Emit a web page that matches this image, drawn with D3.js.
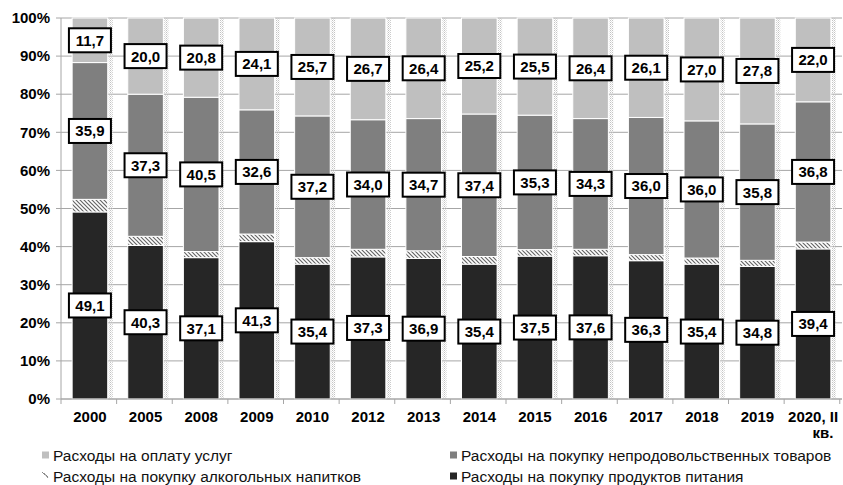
<!DOCTYPE html>
<html>
<head>
<meta charset="utf-8">
<script src="https://cdn.jsdelivr.net/npm/d3@7"></script>
<style>
  body { margin: 0; background: #fff; }
  svg text { font-family: "Liberation Sans", Arial, sans-serif; }
</style>
</head>
<body>
<svg id="chart" width="843" height="485"></svg>
<script>
const years = ["2000", "2005", "2008", "2009", "2010", "2012", "2013", "2014", "2015", "2016", "2017", "2018", "2019", "2020, II кв."];
const food = [49.1, 40.3, 37.1, 41.3, 35.4, 37.3, 36.9, 35.4, 37.5, 37.6, 36.3, 35.4, 34.8, 39.4];
const alcohol = [3.3, 2.4, 1.6, 2.0, 1.7, 2.0, 2.0, 2.0, 1.7, 1.7, 1.6, 1.6, 1.6, 1.8];
const nonfood = [35.9, 37.3, 40.5, 32.6, 37.2, 34.0, 34.7, 37.4, 35.3, 34.3, 36.0, 36.0, 35.8, 36.8];
const services = [11.7, 20.0, 20.8, 24.1, 25.7, 26.7, 26.4, 25.2, 25.5, 26.4, 26.1, 27.0, 27.8, 22.0];
const yTicks = [0, 10, 20, 30, 40, 50, 60, 70, 80, 90, 100];

const svg = d3.select("#chart");
const mLeft = 61, mRight = 842, mTop = 18, mBottom = 399;

const x = d3.scaleBand().domain(years).range([mLeft, mRight]).paddingInner(0.36).paddingOuter(0.2);
const y = d3.scaleLinear().domain([0, 100]).range([mBottom, mTop]);

const defs = svg.append("defs");
const hatch = defs.append("pattern")
  .attr("id", "hatch").attr("patternUnits", "userSpaceOnUse")
  .attr("width", 4).attr("height", 4);
hatch.append("rect").attr("width", 4).attr("height", 4).attr("fill", "#fff");
hatch.append("path").attr("d", "M-1,-1 L5,5 M-1,3 L1,5 M3,-1 L5,1")
  .attr("stroke", "#666").attr("stroke-width", 1.2);

const dots = defs.append("pattern")
  .attr("id", "dots").attr("patternUnits", "userSpaceOnUse")
  .attr("width", 2).attr("height", 2);
dots.append("rect").attr("width", 1).attr("height", 1).attr("fill", "#c4c4c4");
dots.append("rect").attr("x", 1).attr("y", 1).attr("width", 1).attr("height", 1).attr("fill", "#e0e0e0");

// grid
svg.append("g").selectAll("line").data(yTicks).enter().append("line")
  .attr("x1", mLeft - 5).attr("x2", mRight)
  .attr("y1", d => y(d)).attr("y2", d => y(d))
  .attr("stroke", "#a6a6a6").attr("stroke-width", 1);

svg.append("line").attr("x1", mLeft).attr("x2", mLeft).attr("y1", mTop).attr("y2", mBottom)
  .attr("stroke", "#a6a6a6");

// x ticks at band boundaries
const step = x.step();
svg.append("g").selectAll("line").data(d3.range(years.length + 1)).enter().append("line")
  .attr("x1", i => mLeft + i * step).attr("x2", i => mLeft + i * step)
  .attr("y1", mBottom).attr("y2", mBottom + 5)
  .attr("stroke", "#a6a6a6");

// stacks
const rows = years.map((yr, i) => ({
  year: yr, food: food[i], alcohol: alcohol[i], nonfood: nonfood[i], services: services[i]
}));
const keys = ["food", "alcohol", "nonfood", "services"];
const fills = { food: "#262626", alcohol: "url(#hatch)", nonfood: "#7f7f7f", services: "#bfbfbf" };
const series = d3.stack().keys(keys)(rows);

// dotted shadow stripe right of bars
svg.append("g").selectAll("rect").data(years).enter().append("rect")
  .attr("x", d => x(d) + x.bandwidth() + 1).attr("width", 4)
  .attr("y", y(100)).attr("height", y(0) - y(100))
  .attr("fill", "url(#dots)");

svg.append("g").selectAll("g").data(series).enter().append("g")
  .attr("fill", d => fills[d.key])
  .selectAll("rect").data(d => d).enter().append("rect")
  .attr("x", d => x(d.data.year))
  .attr("width", x.bandwidth())
  .attr("y", d => y(d[1]))
  .attr("height", d => y(d[0]) - y(d[1]))
  .attr("stroke", "#fff").attr("stroke-width", 1);

svg.append("line").attr("x1", mLeft).attr("x2", mRight).attr("y1", mBottom).attr("y2", mBottom)
  .attr("stroke", "#a6a6a6");

// labels
const labelled = series.filter(s => s.key !== "alcohol");
const lab = svg.append("g").selectAll("g")
  .data(labelled.flatMap(s => s.map(d => ({ v: d[1] - d[0], mid: (d[0] + d[1]) / 2, year: d.data.year }))))
  .enter().append("g")
  .attr("transform", d => `translate(${x(d.year) + x.bandwidth() / 2},${y(d.mid)})`);
lab.append("rect").attr("x", -21).attr("y", -12).attr("width", 42).attr("height", 24)
  .attr("fill", "#fff").attr("stroke", "#000").attr("stroke-width", 2);
lab.append("text").attr("text-anchor", "middle").attr("dy", "0.36em")
  .attr("font-size", 15).attr("font-weight", "bold")
  .text(d => d.v.toFixed(1).replace(".", ","));

// y labels
svg.append("g").selectAll("text").data(yTicks).enter().append("text")
  .attr("x", 50).attr("y", d => y(d)).attr("dy", "0.35em")
  .attr("text-anchor", "end").attr("font-size", 15).attr("font-weight", "bold")
  .text(d => d + "%");

// x labels
const xl = svg.append("g").selectAll("text").data(years).enter().append("text")
  .attr("x", d => x(d) + x.bandwidth() / 2).attr("y", 422)
  .attr("text-anchor", "middle").attr("font-size", 15).attr("font-weight", "bold");
xl.each(function (d) {
  const parts = d.split(" кв.");
  const t = d3.select(this);
  if (parts.length > 1) {
    t.append("tspan").text(parts[0]);
    t.append("tspan").attr("x", x(d) + x.bandwidth() / 2 + 10).attr("dy", 16).text("кв.");
  } else {
    t.text(d);
  }
});

// legend
const legendData = [
  { label: "Расходы на оплату услуг", fill: fills.services, x: 42, y: 455 },
  { label: "Расходы на покупку непродовольственных товаров", fill: fills.nonfood, x: 450, y: 455 },
  { label: "Расходы на покупку алкогольных напитков", fill: "hatch", x: 42, y: 476 },
  { label: "Расходы на покупку продуктов питания", fill: fills.food, x: 450, y: 476 }
];
const lg = svg.append("g").selectAll("g").data(legendData).enter().append("g")
  .attr("transform", d => `translate(${d.x},${d.y})`);
lg.each(function (d) {
  const g = d3.select(this);
  if (d.fill === "hatch") {
    g.append("path").attr("d", "M0,-4 L3,-1 M2,-3 L6,2 M4,-1 L6,1")
      .attr("stroke", "#888").attr("stroke-width", 1);
  } else {
    g.append("rect").attr("x", 0).attr("y", -3.5).attr("width", 7).attr("height", 7).attr("fill", d.fill);
  }
});
lg.append("text").attr("x", 11).attr("dy", "0.36em").attr("font-size", 15.5).attr("fill", "#111")
  .text(d => d.label);
</script>
</body>
</html>
